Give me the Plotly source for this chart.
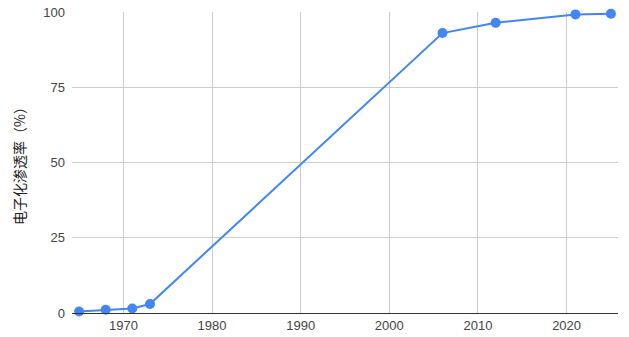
import plotly.graph_objects as go

years = [1965, 1968, 1971, 1973, 2006, 2012, 2021, 2025]
rate = [0.5, 1.1, 1.5, 3.0, 93.0, 96.4, 99.2, 99.4]
x_ticks = [1970, 1980, 1990, 2000, 2010, 2020]
y_ticks = [0, 25, 50, 75, 100]
y_title = "电子化渗透率（%）"

fig = go.Figure()
fig.add_trace(go.Scatter(
    x=years, y=rate, mode="lines+markers",
    line=dict(color="#4285F4", width=2),
    marker=dict(color="#4285F4", size=10),
    cliponaxis=False, showlegend=False,
))
fig.update_layout(
    width=629, height=337,
    margin=dict(l=72, r=11, t=12, b=24),
    plot_bgcolor="white", paper_bgcolor="white",
    font=dict(family="Liberation Sans, Arial, Noto Sans CJK SC", size=13, color="#444444"),
    xaxis=dict(range=[1964.2, 2025.8], tickvals=x_ticks, showgrid=True,
               gridcolor="#cccccc", gridwidth=1, zeroline=False, automargin=False,
               showline=True, linecolor="#333333", linewidth=1, ticks="",
               tickfont=dict(size=13, color="#444444")),
    yaxis=dict(range=[0, 100], tickvals=y_ticks, showgrid=True,
               gridcolor="#cccccc", gridwidth=1, zeroline=False, automargin=False,
               showline=False, ticks="", ticklabelstandoff=6,
               tickfont=dict(size=13, color="#444444"),
               title=dict(text=y_title, font=dict(size=14, color="#222222",
                          family="Noto Sans CJK SC, Liberation Sans"), standoff=14)),
)
fig.write_html("out.html")
